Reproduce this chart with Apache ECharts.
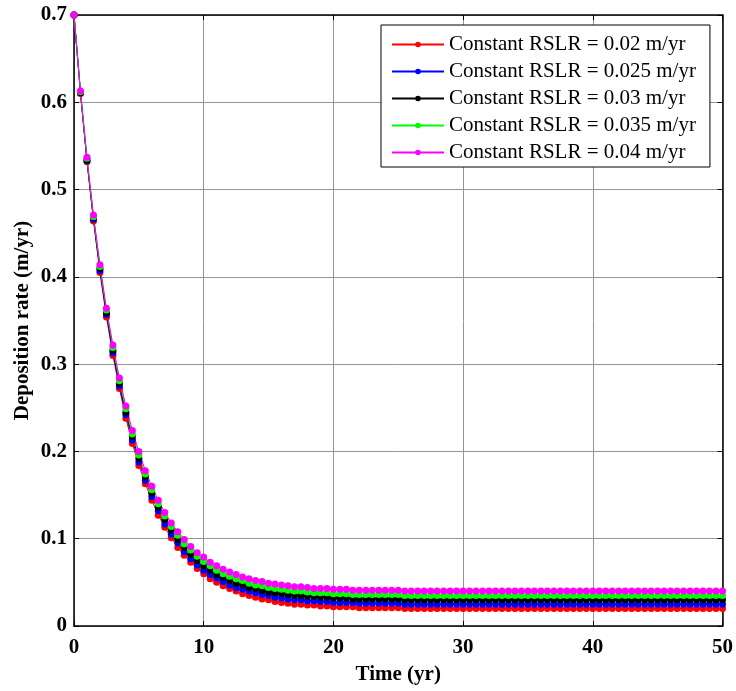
<!DOCTYPE html>
<html>
<head>
<meta charset="utf-8">
<script src="https://cdn.jsdelivr.net/npm/echarts@6/dist/echarts.min.js"></script>
<style>
html,body{margin:0;padding:0;background:#fff;}
#chart{width:736px;height:691px;}
</style>
</head>
<body>
<div id="chart"></div>
<script>
var times = [
0,0.5,1,1.5,2,2.5,3,3.5,4,4.5,5,5.5,6,6.5,7,7.5,8,8.5,9,9.5,
10,10.5,11,11.5,12,12.5,13,13.5,14,14.5,15,15.5,16,16.5,17,17.5,18,18.5,19,19.5,
20,20.5,21,21.5,22,22.5,23,23.5,24,24.5,25,25.5,26,26.5,27,27.5,28,28.5,29,29.5,
30,30.5,31,31.5,32,32.5,33,33.5,34,34.5,35,35.5,36,36.5,37,37.5,38,38.5,39,39.5,
40,40.5,41,41.5,42,42.5,43,43.5,44,44.5,45,45.5,46,46.5,47,47.5,48,48.5,49,49.5,50
];
var rslr002 = [
0.700,0.610,0.532,0.464,0.405,0.354,0.310,0.272,0.238,0.209,
0.184,0.163,0.144,0.127,0.113,0.101,0.090,0.081,0.073,0.066,
0.060,0.054,0.050,0.046,0.043,0.040,0.037,0.035,0.033,0.031,
0.030,0.028,0.027,0.026,0.025,0.025,0.024,0.024,0.023,0.023,
0.022,0.022,0.022,0.022,0.021,0.021,0.021,0.021,0.021,0.021,
0.021,
0.020,0.020,0.020,0.020,0.020,0.020,0.020,0.020,0.020,0.020,
0.020,0.020,0.020,0.020,0.020,0.020,0.020,0.020,0.020,0.020,
0.020,0.020,0.020,0.020,0.020,0.020,0.020,0.020,0.020,0.020,
0.020,0.020,0.020,0.020,0.020,0.020,0.020,0.020,0.020,0.020,
0.020,0.020,0.020,0.020,0.020,0.020,0.020,0.020,0.020,0.020
];
var rslr0025 = [
0.700,0.611,0.533,0.466,0.407,0.357,0.313,0.275,0.242,0.213,
0.188,0.167,0.148,0.132,0.117,0.105,0.095,0.085,0.077,0.070,
0.064,0.059,0.055,0.051,0.047,0.044,0.042,0.040,0.038,0.036,
0.035,0.033,0.032,0.031,0.030,0.030,0.029,0.029,0.028,0.028,
0.027,0.027,0.027,0.027,0.026,0.026,0.026,0.026,0.026,0.026,
0.026,
0.025,0.025,0.025,0.025,0.025,0.025,0.025,0.025,0.025,0.025,
0.025,0.025,0.025,0.025,0.025,0.025,0.025,0.025,0.025,0.025,
0.025,0.025,0.025,0.025,0.025,0.025,0.025,0.025,0.025,0.025,
0.025,0.025,0.025,0.025,0.025,0.025,0.025,0.025,0.025,0.025,
0.025,0.025,0.025,0.025,0.025,0.025,0.025,0.025,0.025,0.025
];
var rslr003 = [
0.700,0.611,0.534,0.468,0.410,0.359,0.316,0.278,0.245,0.217,
0.192,0.171,0.152,0.136,0.122,0.110,0.099,0.090,0.082,0.075,
0.069,0.064,0.059,0.056,0.052,0.049,0.047,0.044,0.043,0.041,
0.039,0.038,0.037,0.036,0.035,0.035,0.034,0.034,0.033,0.033,
0.032,0.032,0.032,0.031,0.031,0.031,0.031,0.031,0.031,0.031,
0.031,
0.030,0.030,0.030,0.030,0.030,0.030,0.030,0.030,0.030,0.030,
0.030,0.030,0.030,0.030,0.030,0.030,0.030,0.030,0.030,0.030,
0.030,0.030,0.030,0.030,0.030,0.030,0.030,0.030,0.030,0.030,
0.030,0.030,0.030,0.030,0.030,0.030,0.030,0.030,0.030,0.030,
0.030,0.030,0.030,0.030,0.030,0.030,0.030,0.030,0.030,0.030
];
var rslr0035 = [
0.700,0.612,0.536,0.469,0.412,0.362,0.319,0.281,0.249,0.220,
0.196,0.174,0.156,0.140,0.126,0.114,0.104,0.094,0.087,0.080,
0.074,0.069,0.064,0.060,0.057,0.054,0.052,0.049,0.047,0.046,
0.044,0.043,0.042,0.041,0.040,0.040,0.039,0.038,0.038,0.038,
0.037,0.037,0.037,0.036,0.036,0.036,0.036,0.036,0.036,0.036,
0.036,
0.035,0.035,0.035,0.035,0.035,0.035,0.035,0.035,0.035,0.035,
0.035,0.035,0.035,0.035,0.035,0.035,0.035,0.035,0.035,0.035,
0.035,0.035,0.035,0.035,0.035,0.035,0.035,0.035,0.035,0.035,
0.035,0.035,0.035,0.035,0.035,0.035,0.035,0.035,0.035,0.035,
0.035,0.035,0.035,0.035,0.035,0.035,0.035,0.035,0.035,0.035
];
var rslr004 = [
0.700,0.613,0.537,0.471,0.414,0.364,0.322,0.284,0.252,0.224,
0.200,0.178,0.160,0.144,0.130,0.118,0.108,0.099,0.091,0.084,
0.079,0.073,0.069,0.065,0.062,0.059,0.056,0.054,0.052,0.051,
0.049,0.048,0.047,0.046,0.045,0.045,0.044,0.043,0.043,0.043,
0.042,0.042,0.042,0.041,0.041,0.041,0.041,0.041,0.041,0.041,
0.041,
0.040,0.040,0.040,0.040,0.040,0.040,0.040,0.040,0.040,0.040,
0.040,0.040,0.040,0.040,0.040,0.040,0.040,0.040,0.040,0.040,
0.040,0.040,0.040,0.040,0.040,0.040,0.040,0.040,0.040,0.040,
0.040,0.040,0.040,0.040,0.040,0.040,0.040,0.040,0.040,0.040,
0.040,0.040,0.040,0.040,0.040,0.040,0.040,0.040,0.040,0.040
];
var seriesNames = [
'Constant RSLR = 0.02 m/yr',
'Constant RSLR = 0.025 m/yr',
'Constant RSLR = 0.03 m/yr',
'Constant RSLR = 0.035 m/yr',
'Constant RSLR = 0.04 m/yr'
];
var seriesValues = [rslr002, rslr0025, rslr003, rslr0035, rslr004];
var seriesColors = ['#ff0000', '#0000ff', '#000000', '#00ff00', '#ff00ff'];
var xTicks = [0, 10, 20, 30, 40, 50];
var yTicks = [0, 0.1, 0.2, 0.3, 0.4, 0.5, 0.6, 0.7];

var FONT = '"Liberation Serif", "Times New Roman", serif';
var chart = echarts.init(document.getElementById('chart'), null, {renderer: 'canvas'});

function mkSeries(i) {
  return {
    name: seriesNames[i],
    type: 'line',
    xAxisIndex: 0,
    yAxisIndex: 0,
    data: times.map(function (t, j) { return [t, seriesValues[i][j]]; }),
    symbol: 'circle',
    symbolSize: 7,
    showAllSymbol: true,
    lineStyle: {color: seriesColors[i], width: 1},
    itemStyle: {color: seriesColors[i], borderColor: seriesColors[i], borderWidth: 0},
    emphasis: {disabled: true},
    animation: false
  };
}

var axisLabelStyle = {fontFamily: FONT, fontWeight: 'bold', fontSize: 21, color: '#000'};
var axisLineStyle = {show: true, onZero: false, lineStyle: {color: '#000', width: 1.5}};
var tickStyle = {show: true, inside: true, length: 5, lineStyle: {color: '#000', width: 1}};

chart.setOption({
  animation: false,
  backgroundColor: '#fff',
  grid: {left: 74, right: 7, top: 15, bottom: 65, containLabel: false},
  legend: {
    orient: 'vertical',
    left: 381,
    top: 25,
    padding: [9, 14, 4, 10],
    itemGap: 6,
    itemWidth: 52,
    itemHeight: 7,
    backgroundColor: '#fff',
    borderColor: '#000',
    borderWidth: 1,
    borderRadius: 0,
    selectedMode: false,
    textStyle: {fontFamily: FONT, fontSize: 21, color: '#000', lineHeight: 21, padding: [0, 0, 0, 0]},
    data: seriesNames
  },
  xAxis: [{
    type: 'value',
    min: xTicks[0],
    max: xTicks[xTicks.length - 1],
    interval: 10,
    name: 'Time (yr)',
    nameLocation: 'middle',
    nameGap: 38,
    nameTextStyle: {fontFamily: FONT, fontWeight: 'bold', fontSize: 21, color: '#000'},
    axisLine: axisLineStyle,
    axisTick: tickStyle,
    axisLabel: Object.assign({margin: 11}, axisLabelStyle),
    splitLine: {show: true, lineStyle: {color: '#949494', width: 1}}
  }, {
    type: 'value',
    position: 'top',
    min: xTicks[0],
    max: xTicks[xTicks.length - 1],
    interval: 10,
    axisLine: axisLineStyle,
    axisTick: tickStyle,
    axisLabel: {show: false},
    splitLine: {show: false}
  }],
  yAxis: [{
    type: 'value',
    min: yTicks[0],
    max: yTicks[yTicks.length - 1],
    interval: 0.1,
    name: 'Deposition rate (m/yr)',
    nameLocation: 'middle',
    nameGap: 41,
    nameMoveOverlap: false,
    nameRotate: 90,
    nameTextStyle: {fontFamily: FONT, fontWeight: 'bold', fontSize: 21, color: '#000'},
    axisLine: axisLineStyle,
    axisTick: tickStyle,
    axisLabel: Object.assign({margin: 7, formatter: function (v) { return v === 0 ? '0' : v.toFixed(1); }}, axisLabelStyle),
    splitLine: {show: true, lineStyle: {color: '#949494', width: 1}}
  }, {
    type: 'value',
    position: 'right',
    min: yTicks[0],
    max: yTicks[yTicks.length - 1],
    interval: 0.1,
    axisLine: axisLineStyle,
    axisTick: tickStyle,
    axisLabel: {show: false},
    splitLine: {show: false}
  }],
  series: [0, 1, 2, 3, 4].map(mkSeries)
});
</script>
</body>
</html>
